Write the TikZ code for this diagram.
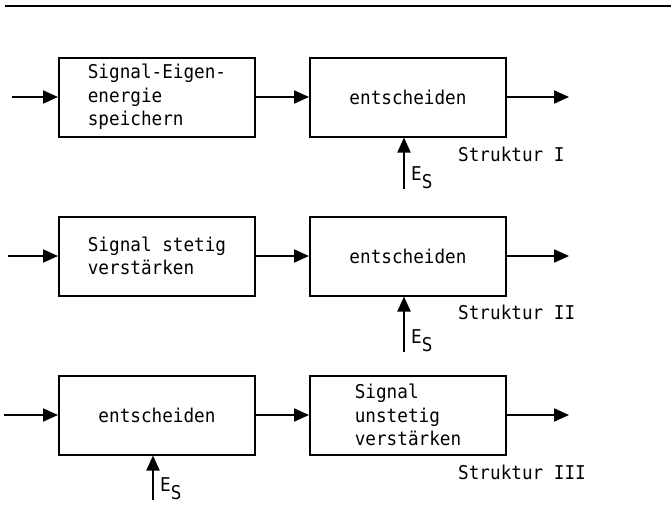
\documentclass[tikz,border=0pt]{standalone}
\usepackage{fontspec}
\newfontfamily\tw[FakeStretch=0.93]{DejaVu Sans Mono}
\usetikzlibrary{positioning,arrows.meta}
\tikzset{node distance=53pt, block/.style={draw,line width=2pt,minimum width=196pt,minimum height=79pt,align=left,font=\tw\fontsize{19}{23.5}\selectfont}, sig/.style={draw,line width=2pt,-{Triangle[length=15pt,width=13pt]}}, tag/.style={font=\tw\fontsize{19}{21}\selectfont,inner sep=2pt}}
\newcommand{\Es}{E\raisebox{-8pt}{S}}

\begin{document}
\begin{tikzpicture}[x=1pt,y=-1pt]
				\useasboundingbox (0,0) rectangle (671,506);
				\draw[line width=2pt] (5,6) -- (671,6);

				\node[block] (a1) at (157,97) {Signal-Eigen-\\energie\\speichern};
				\node[block] (b1) [right=of a1] {entscheiden};
				\node[block] (a2) [below=78pt of a1] {Signal stetig\\verstärken};
				\node[block] (b2) [right=of a2] {entscheiden};
				\node[block] (a3) [below=78pt of a2] {entscheiden};
				\node[block] (b3) [right=of a3] {Signal\\unstetig\\verstärken};

				\coordinate (i1) at ([xshift=-46pt]a1.west);
				\coordinate (i2) at ([xshift=-50pt]a2.west);
				\coordinate (i3) at ([xshift=-54pt]a3.west);
				\coordinate (o1) at ([xshift=62pt]b1.east);
				\coordinate (o2) at ([xshift=62pt]b2.east);
				\coordinate (o3) at ([xshift=62pt]b3.east);
				\coordinate (e1) at ([xshift=-4pt,yshift=-51pt]b1.south);
				\coordinate (e2) at ([xshift=-4pt,yshift=-55pt]b2.south);
				\coordinate (e3) at ([xshift=-4pt,yshift=-44pt]a3.south);

				\node[tag,anchor=base west] (s1) at ([xshift=5pt,yshift=8pt]e1) {\Es};
				\node[tag,anchor=base west] (s2) at ([xshift=5pt,yshift=8pt]e2) {\Es};
				\node[tag,anchor=base west] (s3) at ([xshift=5pt,yshift=8pt]e3) {\Es};
				\node[tag,anchor=west] (t1) at ([xshift=-51pt,yshift=-17pt]b1.south east) {Struktur I};
				\node[tag,anchor=west] (t2) at ([xshift=-51pt,yshift=-16pt]b2.south east) {Struktur II};
				\node[tag,anchor=west] (t3) at ([xshift=-51pt,yshift=-17pt]b3.south east) {Struktur III};

				\draw[sig] (i1) -- (a1.west);
				\draw[sig] (a1) -- (b1);
				\draw[sig] (b1) -- (o1);
				\draw[sig] (e1) -- (e1 |- b1.south);
				\draw[sig] (i2) -- (a2.west);
				\draw[sig] (a2) -- (b2);
				\draw[sig] (b2) -- (o2);
				\draw[sig] (e2) -- (e2 |- b2.south);
				\draw[sig] (i3) -- (a3.west);
				\draw[sig] (a3) -- (b3);
				\draw[sig] (b3) -- (o3);
				\draw[sig] (e3) -- (e3 |- a3.south);
			\end{tikzpicture}
\end{document}
